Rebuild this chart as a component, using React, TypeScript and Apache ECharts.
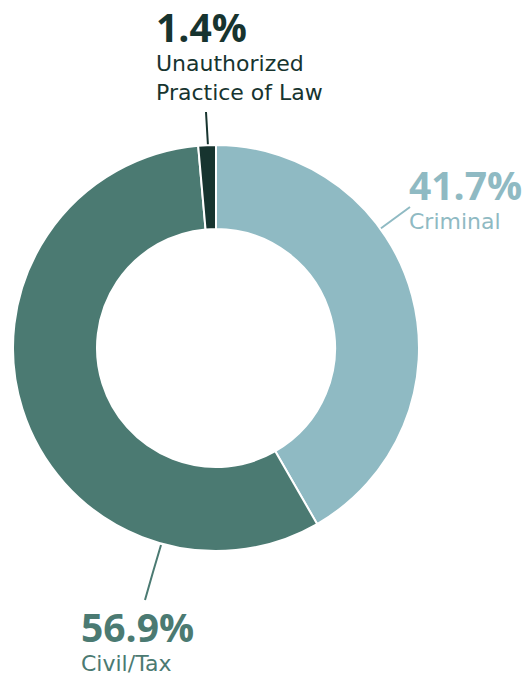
import React, { useEffect, useRef } from "react";
import * as echarts from "echarts";

const categories = ["Criminal", "Civil/Tax", "Unauthorized\nPractice of Law"];
const values = [41.7, 56.9, 1.4];
const colors = ["#8fbac3", "#4b7a72", "#17342f"];

// label layout (position of text block and leader line per slice)
const labelPos: Record<number, { x: number; y: number; vlh: number; nlh: number; line: number[][] }> = {
  0: { x: 409, y: 161, vlh: 46, nlh: 29, line: [[380, 229], [395, 218], [410, 207]] },
  1: { x: 81, y: 600, vlh: 52, nlh: 22, line: [[161, 545], [153, 572], [145, 600]] },
  2: { x: 156, y: 3, vlh: 46, nlh: 29, line: [[208, 146], [207, 129], [206, 112]] },
};

const valueFont = "'Open Sans', 'Noto Sans', sans-serif";
const nameFont = "'DejaVu Sans', 'Open Sans', sans-serif";

export default function App() {
  const ref = useRef<HTMLDivElement>(null);
  useEffect(() => {
    document.body.style.margin = "0";
    const chart = echarts.init(ref.current!, undefined, { renderer: "svg" });
    chart.setOption({
      animation: false,
      backgroundColor: "#ffffff",
      series: [
        {
          type: "pie",
          center: [216, 348],
          radius: [119, 203],
          startAngle: 90,
          clockwise: true,
          avoidLabelOverlap: false,
          itemStyle: { borderColor: "#ffffff", borderWidth: 2 },
          label: {
            show: true,
            position: "outside",
            formatter: (p: any) => {
              const lines = String(p.name).split("\n").map((l) => `{n|${l}}`);
              return `{v|${p.value}%}\n` + lines.join("\n");
            },
          },
          labelLine: { show: true, smooth: false, lineStyle: { width: 2 } },
          labelLayout: (params: any) => {
            const p = labelPos[params.dataIndex];
            return {
              x: p.x,
              y: p.y,
              align: "left",
              verticalAlign: "top",
              labelLinePoints: p.line,
            };
          },
          data: categories.map((c, i) => ({
            name: c,
            value: values[i],
            itemStyle: { color: colors[i] },
            label: {
              color: colors[i],
              rich: {
                v: {
                  fontSize: 39,
                  fontWeight: "bold",
                  lineHeight: labelPos[i].vlh,
                  fontFamily: valueFont,
                  color: colors[i],
                },
                n: {
                  fontSize: 22,
                  lineHeight: labelPos[i].nlh,
                  fontFamily: nameFont,
                  color: colors[i],
                },
              },
            },
            labelLine: { lineStyle: { color: colors[i] } },
          })),
        },
      ],
    });
    return () => chart.dispose();
  }, []);
  return <div ref={ref} style={{ width: 525, height: 674 }} />;
}
